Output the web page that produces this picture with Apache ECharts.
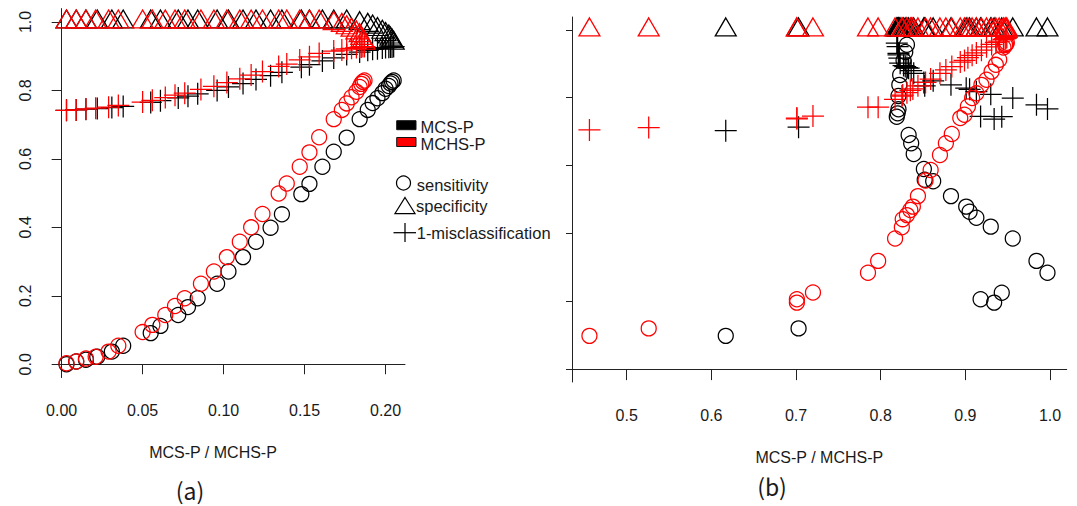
<!DOCTYPE html>
<html>
<head>
<meta charset="utf-8">
<script src="https://cdn.jsdelivr.net/npm/echarts@6/dist/echarts.min.js"></script>
<style>
html,body{margin:0;padding:0;background:#fff;}
#chart{width:1077px;height:506px;}
</style>
</head>
<body>
<div id="chart"></div>
<script>
// ---------- Panel (a) : MCS-P (black) ----------
const xA_mcs    = [0.003,0.009,0.015,0.022,0.031,0.038,0.055,0.061,0.072,0.078,0.084,0.096,0.103,0.112,0.120,0.129,0.136,0.148,0.153,0.161,0.168,0.176,0.184,0.189,0.192,0.195,0.198,0.200,0.202,0.203,0.204,0.205];
const sensA_mcs = [0.000,0.008,0.013,0.022,0.037,0.054,0.091,0.112,0.144,0.167,0.193,0.235,0.271,0.313,0.358,0.399,0.438,0.497,0.527,0.577,0.621,0.662,0.716,0.743,0.763,0.777,0.792,0.805,0.813,0.820,0.825,0.829];
const specA_mcs = [1,1,1,1,1,1,1,1,1,1,1,1,1,1,1,1,1,1,1,1,1,1,0.995,0.990,0.985,0.978,0.970,0.963,0.956,0.950,0.944,0.938];
const accA_mcs  = [0.742,0.743,0.745,0.747,0.750,0.753,0.765,0.770,0.778,0.783,0.790,0.800,0.810,0.820,0.832,0.843,0.853,0.868,0.875,0.886,0.895,0.905,0.912,0.917,0.920,0.922,0.924,0.925,0.926,0.927,0.927,0.928];

// ---------- Panel (a) : MCHS-P (red) ----------
const xA_mchs    = [0.003,0.009,0.015,0.021,0.029,0.035,0.050,0.056,0.064,0.070,0.076,0.086,0.094,0.102,0.110,0.117,0.124,0.134,0.139,0.147,0.153,0.159,0.168,0.173,0.176,0.179,0.182,0.184,0.185,0.186,0.187];
const sensA_mchs = [0.003,0.008,0.017,0.022,0.037,0.054,0.094,0.115,0.144,0.170,0.193,0.235,0.271,0.313,0.358,0.400,0.439,0.499,0.528,0.577,0.619,0.663,0.716,0.743,0.762,0.780,0.796,0.810,0.819,0.825,0.829];
const specA_mchs = [1,1,1,1,1,1,1,1,1,1,1,1,1,1,1,1,1,1,1,1,1,1,0.995,0.990,0.983,0.976,0.968,0.960,0.952,0.944,0.938];
const accA_mchs  = [0.742,0.743,0.746,0.748,0.751,0.756,0.766,0.771,0.779,0.786,0.792,0.803,0.812,0.823,0.834,0.845,0.855,0.870,0.877,0.889,0.898,0.908,0.915,0.918,0.921,0.923,0.925,0.926,0.927,0.928,0.928];

// ---------- Panel (b) : MCS-P (black) ----------
const xB_mcs    = [0.617,0.703,0.819,0.820,0.821,0.821,0.822,0.823,0.827,0.829,0.831,0.833,0.836,0.839,0.851,0.852,0.862,0.883,0.901,0.905,0.913,0.918,0.930,0.934,0.943,0.956,0.984,0.997];
const sensB_mcs = [0.098,0.120,0.744,0.754,0.766,0.805,0.838,0.867,0.910,0.935,0.956,0.690,0.666,0.634,0.590,0.558,0.554,0.510,0.479,0.464,0.446,0.206,0.420,0.196,0.225,0.385,0.319,0.284];
const specB_mcs = [1,1,1,1,1,1,1,1,1,1,1,1,1,1,1,1,1,1,1,1,1,1,1,1,1,1,1,1];
const accB_mcs  = [0.703,0.713,0.961,0.951,0.931,0.926,0.917,0.902,0.895,0.892,0.889,0.887,0.880,0.872,0.845,0.835,0.850,0.838,0.828,0.825,0.818,0.745,0.810,0.737,0.744,0.799,0.779,0.767];

// ---------- Panel (b) : MCHS-P (red) ----------
const xB_mchs    = [0.456,0.526,0.701,0.701,0.720,0.785,0.797,0.817,0.825,0.826,0.831,0.835,0.838,0.844,0.853,0.859,0.870,0.877,0.884,0.894,0.899,0.903,0.908,0.913,0.919,0.925,0.931,0.936,0.940,0.945,0.947,0.948,0.949];
const sensB_mchs = [0.098,0.120,0.206,0.196,0.226,0.284,0.319,0.385,0.418,0.442,0.454,0.469,0.479,0.510,0.556,0.587,0.631,0.666,0.693,0.740,0.750,0.774,0.799,0.813,0.838,0.853,0.877,0.897,0.912,0.948,0.955,0.958,0.962];
const specB_mchs = [1,1,1,1,1,1,1,1,1,1,1,1,1,1,1,1,1,1,1,1,1,1,1,1,1,1,1,1,1,1,1,1,1];
const accB_mchs  = [0.705,0.712,0.738,0.740,0.746,0.772,0.772,0.795,0.805,0.808,0.815,0.822,0.826,0.835,0.845,0.855,0.872,0.882,0.892,0.905,0.910,0.918,0.925,0.932,0.940,0.950,0.957,0.963,0.967,0.972,0.974,0.976,0.978];

// ---------- Ticks & texts ----------
const xTicksA = [0,0.05,0.10,0.15,0.20];
const yTicksA = [0,0.2,0.4,0.6,0.8,1.0];
const xTicksB = [0.5,0.6,0.7,0.8,0.9,1.0];
const yTicksB = [0,0.2,0.4,0.6,0.8,1.0];
const axisTitle = 'MCS-P / MCHS-P';
const panelLabels = ['(a)','(b)'];
const groupNames = ['MCS-P','MCHS-P'];
const measureNames = ['sensitivity','specificity','1-misclassification'];

const BLACK = '#000000', RED = '#ff0000', TXT = '#1a1a1a';
const FONT = '"Liberation Sans", Arial, sans-serif';
const PLUS = 'path://M0,10L20,10M10,0L10,20';

function pts(xs, ys){ return xs.map((x,i)=>[x, ys[i]]); }

function mk(name, xi, yi, data, kind, color){
  const s = {
    name, type:'scatter', xAxisIndex:xi, yAxisIndex:yi, data,
    silent:true, animation:false,
    itemStyle:{color:'rgba(0,0,0,0)', borderColor:color, borderWidth:1.25, opacity:1},
    emphasis:{disabled:true}
  };
  if(kind==='circle'){ s.symbol='circle'; s.symbolSize=15; }
  else if(kind==='tri'){ s.symbol='triangle'; s.symbolSize=[21,18]; s.symbolOffset=[0,-3]; }
  else { s.symbol=PLUS; s.symbolSize=22; }
  return s;
}

const series = [
  mk('a MCS sens',0,0,pts(xA_mcs,sensA_mcs),'circle',BLACK),
  mk('a MCS spec',0,0,pts(xA_mcs,specA_mcs),'tri',BLACK),
  mk('a MCS acc',0,0,pts(xA_mcs,accA_mcs),'plus',BLACK),
  mk('a MCHS sens',0,0,pts(xA_mchs,sensA_mchs),'circle',RED),
  mk('a MCHS spec',0,0,pts(xA_mchs,specA_mchs),'tri',RED),
  mk('a MCHS acc',0,0,pts(xA_mchs,accA_mchs),'plus',RED),
  mk('b MCS sens',1,1,pts(xB_mcs,sensB_mcs),'circle',BLACK),
  mk('b MCS spec',1,1,pts(xB_mcs,specB_mcs),'tri',BLACK),
  mk('b MCS acc',1,1,pts(xB_mcs,accB_mcs),'plus',BLACK),
  mk('b MCHS sens',1,1,pts(xB_mchs,sensB_mchs),'circle',RED),
  mk('b MCHS spec',1,1,pts(xB_mchs,specB_mchs),'tri',RED),
  mk('b MCHS acc',1,1,pts(xB_mchs,accB_mchs),'plus',RED)
];

const axLine = {show:true, lineStyle:{color:'#222', width:1}};
const legText = (x,y,t)=>({type:'text', x, y, style:{text:t, fontSize:16.5, lineHeight:14, fontFamily:FONT, fill:TXT, verticalAlign:'middle'}});
const option = {
  animation:false,
  backgroundColor:'#fff',
  grid:[
    {left:55, top:8.6, width:350, height:369},
    {left:572, top:17, width:494.7, height:365}
  ],
  xAxis:[
    {gridIndex:0, type:'value', min:-0.0041, max:0.2120,
     axisLine:axLine,
     axisTick:{show:true, customValues:xTicksA, length:10, lineStyle:{color:'#222'}},
     axisLabel:{customValues:xTicksA, formatter:v=>v.toFixed(2), margin:25, fontSize:16, color:TXT, fontFamily:FONT},
     splitLine:{show:false},
     name:axisTitle, nameLocation:'middle', nameGap:67,
     nameTextStyle:{fontSize:16, color:TXT, fontFamily:FONT, padding:[0,34,0,0]}},
    {gridIndex:1, type:'value', min:0.4354, max:1.0197,
     axisLine:axLine,
     axisTick:{show:true, customValues:xTicksB, length:11, lineStyle:{color:'#222'}},
     axisLabel:{customValues:xTicksB, formatter:v=>v.toFixed(1), margin:25, fontSize:16, color:TXT, fontFamily:FONT},
     splitLine:{show:false},
     name:axisTitle, nameLocation:'middle', nameGap:67,
     nameTextStyle:{fontSize:16, color:TXT, fontFamily:FONT}}
  ],
  yAxis:[
    {gridIndex:0, type:'value', min:-0.039, max:1.039,
     axisLine:axLine,
     axisTick:{show:true, customValues:yTicksA, length:10, lineStyle:{color:'#222'}},
     axisLabel:{customValues:yTicksA, formatter:v=>v.toFixed(1), rotate:90, margin:22, fontSize:16, color:TXT, fontFamily:FONT},
     splitLine:{show:false}},
    {gridIndex:1, type:'value', min:-0.038, max:1.038,
     axisLine:axLine,
     axisTick:{show:true, customValues:yTicksB, length:6, lineStyle:{color:'#222'}},
     axisLabel:{show:false},
     splitLine:{show:false}}
  ],
  series,
  graphic:[
    {type:'rect', shape:{x:396.7,y:120.7,width:19.3,height:9}, style:{fill:BLACK, stroke:'#111', lineWidth:1}},
    {type:'rect', shape:{x:396.7,y:137.5,width:19.3,height:9}, style:{fill:RED, stroke:'#111', lineWidth:1}},
    legText(420.5,127,groupNames[0]),
    legText(420.5,143.5,groupNames[1]),
    {type:'circle', shape:{cx:403.5, cy:183, r:7}, style:{fill:'none', stroke:BLACK, lineWidth:1.25}},
    {type:'polygon', shape:{points:[[405,197.5],[415,213.5],[395,213.5]]}, style:{fill:'none', stroke:BLACK, lineWidth:1.25}},
    {type:'line', shape:{x1:393.5,y1:232.7,x2:416,y2:232.7}, style:{stroke:BLACK, lineWidth:1.25}},
    {type:'line', shape:{x1:405,y1:223,x2:405,y2:242}, style:{stroke:BLACK, lineWidth:1.25}},
    legText(416.7,184.5,measureNames[0]),
    legText(416,206,measureNames[1]),
    legText(416.7,233,measureNames[2]),
    {type:'text', x:190, y:490, style:{text:panelLabels[0], fontSize:23, fontFamily:'"Noto Sans CJK SC", "Noto Sans", sans-serif', fill:TXT, align:'center', verticalAlign:'middle'}},
    {type:'text', x:772, y:486, style:{text:panelLabels[1], fontSize:23, fontFamily:'"Noto Sans CJK SC", "Noto Sans", sans-serif', fill:TXT, align:'center', verticalAlign:'middle'}}
  ]
};

const chart = echarts.init(document.getElementById('chart'), null, {renderer:'svg', width:1077, height:506});
chart.setOption(option);
</script>
</body>
</html>
